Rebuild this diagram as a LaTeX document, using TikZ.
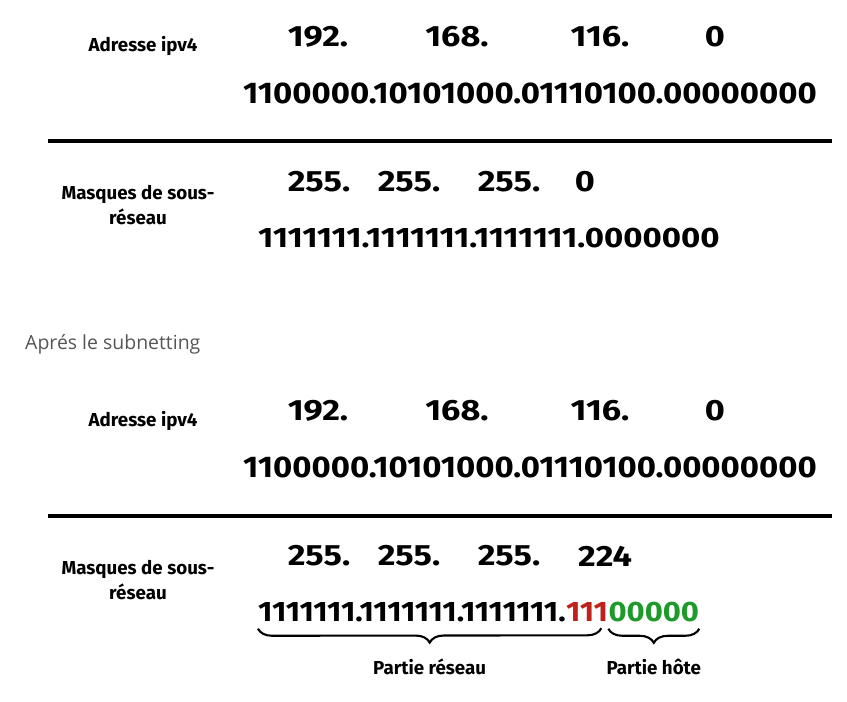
\documentclass[tikz,border=0pt]{standalone}
\usepackage{fontspec}
\setmainfont{Fira Sans}
\newfontfamily\opensans{Open Sans}
\newfontfamily\bitfont{Fira Sans}[FakeStretch=1.1]
\newfontfamily\maskfont{Fira Sans}[FakeStretch=1.17]
\usetikzlibrary{decorations.pathreplacing}

\definecolor{subred}{HTML}{C0221B}
\definecolor{hostgreen}{HTML}{1E9A2A}
\definecolor{notegray}{HTML}{555555}

\begin{document}
\begin{tikzpicture}[x=0.03cm, y=-0.03cm,
    label/.style={font=\fontsize{16}{21}\selectfont\bfseries, align=center, inner sep=0pt},
    octet/.style={font=\fontsize{25}{25}\selectfont\maskfont\bfseries, inner sep=0pt},
    bits/.style={font=\fontsize{25.5}{25}\selectfont\bitfont\bfseries, inner sep=0pt, anchor=west},
    maskbits/.style={font=\fontsize{24}{24}\selectfont\maskfont\bfseries, inner sep=0pt},
    lastbits/.style={font=\fontsize{24}{24}\selectfont\bitfont\bfseries, inner sep=0pt, anchor=base west},
    rule/.style={line width=3.4pt},
    part/.style={decorate, decoration={brace, mirror, amplitude=12pt}, line width=1.8pt},
    note/.style={font=\fontsize{16.6}{17}\selectfont\opensans, text=notegray, anchor=west, inner sep=0pt}
]

\useasboundingbox (0,0) rectangle (847,701);

\def\xA{318}
\def\xB{457}
\def\xC{600}
\def\xD{715}

% avant le subnetting
\node[label] (ipA) at (143, 46) {Adresse ipv4};
\node[octet] (ipAa) at (\xA, 37) {192.};
\node[octet] (ipAb) at (\xB, 37) {168.};
\node[octet] (ipAc) at (\xC, 37) {116.};
\node[octet] (ipAd) at (\xD, 37) {0};
\node[bits] (ipAbin) at (243, 93) {1100000.10101000.01110100.00000000};

\draw[rule] (48,141) -- (832,141);

\node[label] (maskA) at (138, 205) {Masques de sous-\\réseau};
\node[octet] (maskAa) at (319, 182) {255.};
\node[octet] (maskAb) at (409, 182) {255.};
\node[octet] (maskAc) at (509, 182) {255.};
\node[octet] (maskAd) at (585, 182) {0};
\node[maskbits, anchor=west] (maskAbin) at (258, 238) {1111111.1111111.1111111.0000000};

\node[note] (after) at (25, 344) {Aprés le subnetting};

% apres le subnetting
\node[label] (ipB) at (143, 421) {Adresse ipv4};
\node[octet] (ipBa) at (\xA, 411) {192.};
\node[octet] (ipBb) at (\xB, 411) {168.};
\node[octet] (ipBc) at (\xC, 411) {116.};
\node[octet] (ipBd) at (\xD, 411) {0};
\node[bits] (ipBbin) at (243, 467) {1100000.10101000.01110100.00000000};

\draw[rule] (48,516) -- (832,516);

\node[label] (maskB) at (138, 580) {Masques de sous-\\réseau};
\node[octet] (maskBa) at (319, 556) {255.};
\node[octet] (maskBb) at (409, 556) {255.};
\node[octet] (maskBc) at (509, 556) {255.};
\node[octet] (maskBd) at (605, 556) {224};
\node[lastbits] (netB) at (258, 621) {1111111.1111111.1111111.};
\node[lastbits, text=subred] (subB) at (netB.base east) {111};
\node[lastbits, text=hostgreen] (hostB) at (subB.base east) {00000};

\draw[part] ([yshift=-6pt]netB.south west) -- ([xshift=-6pt, yshift=-6pt]subB.south east)
    node[midway, below=25pt, label] (netlbl) {Partie réseau};
\draw[part] ([yshift=-6pt]hostB.south west) -- ([yshift=-6pt]hostB.south east)
    node[midway, below=25pt, label] (hostlbl) {Partie hôte};

\end{tikzpicture}
\end{document}
